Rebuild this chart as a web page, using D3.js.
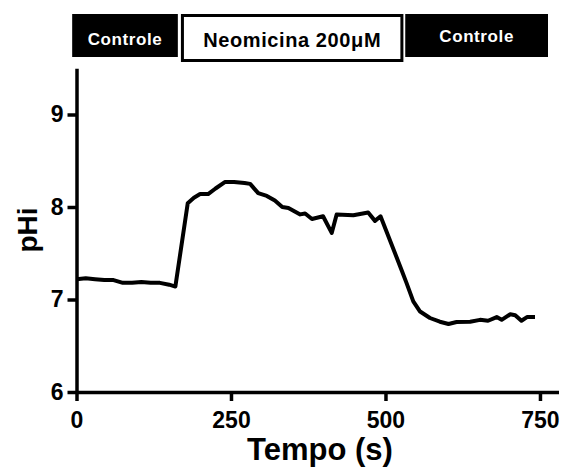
<!DOCTYPE html>
<html>
<head>
<meta charset="utf-8">
<script src="https://cdn.jsdelivr.net/npm/d3@7"></script>
<style>
  html, body { margin: 0; padding: 0; background: #fff; }
  svg { display: block; }
  text { font-family: "Liberation Sans", Arial, Helvetica, sans-serif; font-weight: bold; }
</style>
</head>
<body>
<svg id="chart" width="561" height="467"></svg>
<script>
// Intracellular pH over time
const times = [0, 15, 30, 45, 60, 75, 90, 105, 120, 135, 150, 160, 180, 190, 200, 213, 225, 240, 255, 272, 281, 294, 308, 321, 333, 343, 362, 370, 381, 399, 413, 421, 448, 472, 483, 492, 526, 534, 545, 556, 572, 588, 602, 615, 637, 653, 666, 680, 688, 702, 710, 720, 729, 742];
const phValues = [7.22, 7.23, 7.22, 7.21, 7.21, 7.18, 7.18, 7.19, 7.18, 7.18, 7.16, 7.14, 8.04, 8.10, 8.14, 8.14, 8.20, 8.27, 8.27, 8.26, 8.25, 8.15, 8.12, 8.07, 8.00, 7.99, 7.92, 7.93, 7.87, 7.90, 7.72, 7.92, 7.91, 7.94, 7.85, 7.90, 7.32, 7.18, 6.98, 6.87, 6.80, 6.76, 6.735, 6.757, 6.76, 6.78, 6.77, 6.81, 6.78, 6.84, 6.83, 6.77, 6.81, 6.81];

const xTicks = [0, 250, 500, 750];
const yTicks = [6, 7, 8, 9];

// Treatment periods shown above the plot
const phaseLabels = ["Controle", "Neomicina 200\u03bcM", "Controle"];
const phaseStart = [-7, 169, 532];
const phaseEnd = [164, 529, 763];
const phaseDark = [true, false, true];

const svg = d3.select("#chart");

const x = d3.scaleLinear().domain([0, 780]).range([76.5, 558.5]);
const y = d3.scaleLinear().domain([6, 9.5]).range([392, 68.25]);

// Axes
const xAxis = svg.append("g")
  .attr("transform", `translate(0,${y(6)})`)
  .call(d3.axisBottom(x).tickValues(xTicks).tickFormat(d3.format("d"))
    .tickSize(9).tickSizeOuter(0).tickPadding(11));
const yAxis = svg.append("g")
  .attr("transform", `translate(${x(0)},0)`)
  .call(d3.axisLeft(y).tickValues(yTicks).tickFormat(d3.format("d"))
    .tickSize(9).tickSizeOuter(0).tickPadding(4));

[xAxis, yAxis].forEach(g => {
  g.select(".domain").attr("stroke", "#000").attr("stroke-width", 3.5);
  g.selectAll(".tick line").attr("stroke", "#000").attr("stroke-width", 3.5);
  g.selectAll(".tick text")
    .attr("fill", "#000")
    .style("font-size", "23px")
    .style("font-weight", "bold")
    .style("font-family", "'Liberation Sans', Arial, sans-serif");
});

// Trace
const line = d3.line()
  .x((d, i) => x(times[i]))
  .y(d => y(d));

svg.append("path")
  .datum(phValues)
  .attr("d", line)
  .attr("fill", "none")
  .attr("stroke", "#000")
  .attr("stroke-width", 4)
  .attr("stroke-linejoin", "round");

// Axis titles
svg.append("text")
  .attr("x", 320)
  .attr("y", 460)
  .attr("text-anchor", "middle")
  .style("font-size", "31px")
  .text("Tempo (s)");

svg.append("text")
  .attr("transform", "translate(37,230) rotate(-90)")
  .attr("text-anchor", "middle")
  .style("font-size", "28px")
  .text("pHi");

// Phase banners
const banners = svg.append("g");
const labelBaseline = [45, 47, 42];
phaseLabels.forEach((label, i) => {
  const x0 = x(phaseStart[i]);
  const x1 = x(phaseEnd[i]);
  if (phaseDark[i]) {
    banners.append("rect")
      .attr("x", x0).attr("y", 14)
      .attr("width", x1 - x0).attr("height", 43)
      .attr("fill", "#000");
  } else {
    banners.append("rect")
      .attr("x", x0 + 1.5).attr("y", 15.5)
      .attr("width", x1 - x0 - 3).attr("height", 45)
      .attr("fill", "#fff")
      .attr("stroke", "#000")
      .attr("stroke-width", 3);
  }
  banners.append("text")
    .attr("x", (x0 + x1) / 2)
    .attr("y", labelBaseline[i])
    .attr("text-anchor", "middle")
    .attr("fill", phaseDark[i] ? "#fff" : "#000")
    .style("font-size", phaseDark[i] ? "17px" : "20px")
    .style("letter-spacing", phaseDark[i] ? "0.6px" : "0.6px")
    .text(label);
});
</script>
</body>
</html>
